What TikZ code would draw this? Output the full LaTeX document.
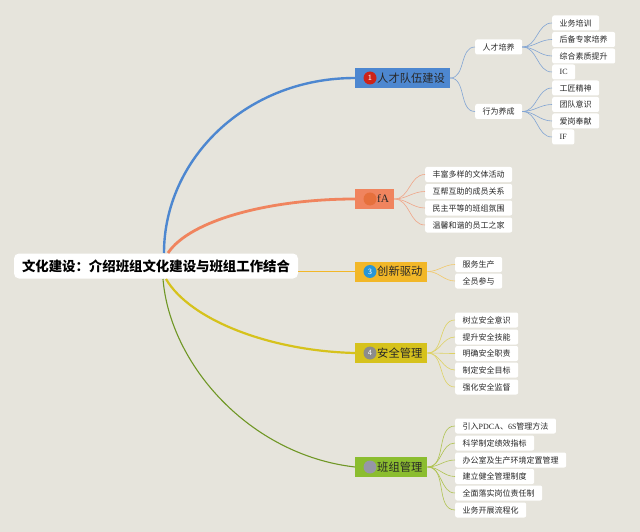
\documentclass[tikz,border=0pt]{standalone}
\usepackage{fontspec}
\setmainfont{Liberation Serif}
\newfontfamily\cjk{Noto Sans CJK SC}
\newcommand{\lat}[1]{{\rmfamily #1}}
\definecolor{bgc}{RGB}{230,228,220}
\definecolor{cblue}{RGB}{77,135,208}
\definecolor{corange}{RGB}{240,132,94}
\definecolor{cgold}{RGB}{242,183,40}
\definecolor{cyel}{RGB}{214,194,28}
\definecolor{cgreen}{RGB}{139,189,47}
\definecolor{lblue}{RGB}{130,165,212}
\definecolor{lorange}{RGB}{240,165,135}
\definecolor{lgold}{RGB}{242,200,105}
\definecolor{lyel}{RGB}{222,210,100}
\definecolor{lgreen}{RGB}{175,195,80}
\definecolor{txt}{RGB}{40,40,40}
\definecolor{bred}{RGB}{205,35,25}
\definecolor{borange}{RGB}{230,112,60}
\definecolor{bblue}{RGB}{40,150,215}
\definecolor{bgray}{RGB}{140,140,140}
\definecolor{blilac}{RGB}{150,150,168}
\tikzset{
  rootbox/.style={fill=white, rounded corners=5pt, inner xsep=8pt, minimum height=25pt, text=black,
    font=\cjk\bfseries\fontsize{13.4}{15}\selectfont},
  mainbox/.style={anchor=west, minimum height=20pt, inner xsep=5pt, inner ysep=0pt, text=txt,
    font=\cjk\fontsize{11.3}{13}\selectfont},
  leaf/.style={anchor=west, fill=white, rounded corners=2pt, inner xsep=7.5pt, inner ysep=0pt,
    minimum height=15pt, text=txt, font=\cjk\fontsize{8}{10}\selectfont},
  badge/.style={circle, minimum size=13pt, inner sep=0pt, text=white, font=\sffamily\fontsize{8}{9}\selectfont},
  sub/.style={line width=0.6pt},
}
\begin{document}
\begin{tikzpicture}[x=1pt,y=-1pt]
\useasboundingbox (0,0) rectangle (640,532);
\fill[bgc] (0,0) rectangle (640,532);

% root
\node[rootbox] (root) at (156,266) {文化建设：介绍班组文化建设与班组工作结合};

% main branches
\node[mainbox, fill=cblue] (m1) at (355,78) {\hspace{17pt}人才队伍建设};
\node[mainbox, fill=corange] (m2) at (355,199) {\hspace{17pt}\lat{fA}};
\node[mainbox, fill=cgold] (m3) at (355,271.5) {\hspace{17pt}创新驱动};
\node[mainbox, fill=cyel] (m4) at (355,353) {\hspace{17pt}安全管理};
\node[mainbox, fill=cgreen] (m5) at (355,467) {\hspace{17pt}班组管理};

\node[badge, fill=bred] (b1) at ([xshift=15pt]m1.west) {1};
\node[badge, fill=borange] (b2) at ([xshift=15pt]m2.west) {};
\node[badge, fill=bblue] (b3) at ([xshift=15pt]m3.west) {3};
\node[badge, fill=bgray] (b4) at ([xshift=15pt]m4.west) {4};
\node[badge, fill=blilac] (b5) at ([xshift=15pt]m5.west) {};

% main connectors
\coordinate (rt1) at (164,253);
\coordinate (rt2) at (168,253);
\coordinate (rb4) at (166,279);
\coordinate (rb5) at (163,279);
\draw[cblue, line width=2.4pt] (rt1) .. controls (164,160) and (245,78) .. (m1.west);
\draw[corange, line width=2.8pt] (rt2) .. controls (190,220) and (270,199) .. (m2.west);
\draw[cgold, line width=1.2pt] (root.east |- m3.west) -- (m3.west);
\draw[cyel, line width=2.2pt] (rb4) .. controls (190,320) and (270,351) .. (m4.west);
\draw[cgreen!80!black, line width=1.1pt] (rb5) .. controls (170,365) and (250,455) .. (m5.west);

% level 2 of branch 1
\node[leaf] (a1) at (475,47) {人才培养};
\node[leaf] (a2) at (475,111.5) {行为养成};
\draw[lblue, sub] (m1.east) to[out=0,in=180] (a1.west);
\draw[lblue, sub] (m1.east) to[out=0,in=180] (a2.west);

\node[leaf] (a11) at (552,23) {业务培训};
\node[leaf] (a12) at (552,39.5) {后备专家培养};
\node[leaf] (a13) at (552,56) {综合素质提升};
\node[leaf] (a14) at (552,72) {\lat{IC}};
\node[leaf] (a21) at (552,88) {工匠精神};
\node[leaf] (a22) at (552,104.5) {团队意识};
\node[leaf] (a23) at (552,121) {爱岗奉献};
\node[leaf] (a24) at (552,137) {\lat{IF}};
\foreach \n in {a11,a12,a13,a14} \draw[lblue, sub] (a1.east) to[out=0,in=180] (\n.west);
\foreach \n in {a21,a22,a23,a24} \draw[lblue, sub] (a2.east) to[out=0,in=180] (\n.west);

% branch 2
\node[leaf] (c1) at (425,174.5) {丰富多样的文体活动};
\node[leaf] (c2) at (425,191.5) {互帮互助的成员关系};
\node[leaf] (c3) at (425,208) {民主平等的班组氛围};
\node[leaf] (c4) at (425,225) {温馨和谐的员工之家};
\foreach \n in {c1,c2,c3,c4} \draw[lorange, sub] (m2.east) to[out=0,in=180] (\n.west);

% branch 3
\node[leaf] (d1) at (455,264.5) {服务生产};
\node[leaf] (d2) at (455,281) {全员参与};
\foreach \n in {d1,d2} \draw[lgold, sub] (m3.east) to[out=0,in=180] (\n.west);

% branch 4
\node[leaf] (e1) at (455,320) {树立安全意识};
\node[leaf] (e2) at (455,337) {提升安全技能};
\node[leaf] (e3) at (455,353.5) {明确安全职责};
\node[leaf] (e4) at (455,370) {制定安全目标};
\node[leaf] (e5) at (455,387) {强化安全监督};
\foreach \n in {e1,e2,e3,e4,e5} \draw[lyel, sub] (m4.east) to[out=0,in=180] (\n.west);

% branch 5
\node[leaf] (f1) at (455,426) {引入\lat{PDCA}、\lat{6S}管理方法};
\node[leaf] (f2) at (455,443) {科学制定绩效指标};
\node[leaf] (f3) at (455,460) {办公室及生产环境定置管理};
\node[leaf] (f4) at (455,476.5) {建立健全管理制度};
\node[leaf] (f5) at (455,493) {全面落实岗位责任制};
\node[leaf] (f6) at (455,510) {业务开展流程化};
\foreach \n in {f1,f2,f3,f4,f5,f6} \draw[lgreen, sub] (m5.east) to[out=0,in=180] (\n.west);
\end{tikzpicture}
\end{document}
